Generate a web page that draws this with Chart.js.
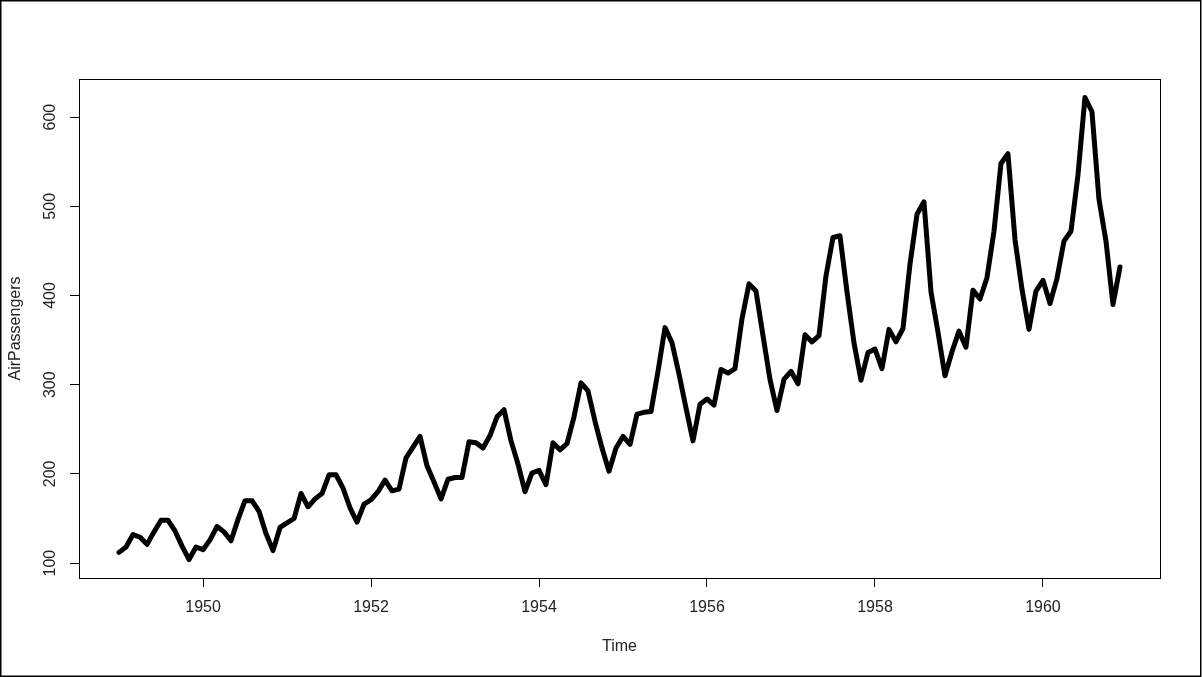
<!DOCTYPE html>
<html>
<head>
<meta charset="utf-8">
<script src="https://cdn.jsdelivr.net/npm/chart.js@4.4.0/dist/chart.umd.min.js"></script>
<style>
  html, body { margin: 0; padding: 0; background: #fff; }
  #wrap { width: 1202px; height: 677px; }
</style>
</head>
<body>
<div id="wrap"><canvas id="chart"></canvas></div>
<script>
// AirPassengers, monthly totals (thousands), Jan..Dec
const y1949 = [112, 118, 132, 129, 121, 135, 148, 148, 136, 119, 104, 118];
const y1950 = [115, 126, 141, 135, 125, 149, 170, 170, 158, 133, 114, 140];
const y1951 = [145, 150, 178, 163, 172, 178, 199, 199, 184, 162, 146, 166];
const y1952 = [171, 180, 193, 181, 183, 218, 230, 242, 209, 191, 172, 194];
const y1953 = [196, 196, 236, 235, 229, 243, 264, 272, 237, 211, 180, 201];
const y1954 = [204, 188, 235, 227, 234, 264, 302, 293, 259, 229, 203, 229];
const y1955 = [242, 233, 267, 269, 270, 315, 364, 347, 312, 274, 237, 278];
const y1956 = [284, 277, 317, 313, 318, 374, 413, 405, 355, 306, 271, 306];
const y1957 = [315, 301, 356, 348, 355, 422, 465, 467, 404, 347, 305, 336];
const y1958 = [340, 318, 362, 348, 363, 435, 491, 505, 404, 359, 310, 337];
const y1959 = [360, 342, 406, 396, 420, 472, 548, 559, 463, 407, 362, 405];
const y1960 = [417, 391, 419, 461, 472, 535, 622, 606, 508, 461, 390, 432];

const startYear = 1949;
const xTicks = [1950, 1952, 1954, 1956, 1958, 1960];
const yTicks = [100, 200, 300, 400, 500, 600];

const allYears = [y1949, y1950, y1951, y1952, y1953, y1954, y1955, y1956, y1957, y1958, y1959, y1960];
const points = [];
allYears.forEach(function (vals, yi) {
    vals.forEach(function (v, m) {
        points.push({ x: startYear + yi + m / 12, y: v });
    });
});

// R style 4% range padding
const xs = points.map(p => p.x), ys = points.map(p => p.y);
const xMin = Math.min(...xs), xMax = Math.max(...xs);
const yMin = Math.min(...ys), yMax = Math.max(...ys);
const xPad = (xMax - xMin) * 0.04, yPad = (yMax - yMin) * 0.04;

const FONT = "'Liberation Sans', Arial, sans-serif";
const TXT = "#222";

const framePlugin = {
    id: "frame",
    afterDraw(chart) {
        const ctx = chart.ctx, a = chart.chartArea;
        ctx.save();
        ctx.strokeStyle = "#000";
        ctx.lineWidth = 1;
        ctx.strokeRect(Math.round(a.left) + 0.5, Math.round(a.top) + 0.5,
            Math.round(a.right - a.left), Math.round(a.bottom - a.top));
        // outer border
        ctx.lineWidth = 1.5;
        ctx.strokeRect(0.75, 0.75, 1200, 675.5);
        // y tick labels, vertical like R
        const ys = chart.scales.y;
        ctx.fillStyle = TXT;
        ctx.font = "16px " + FONT;
        ctx.textAlign = "center";
        ctx.textBaseline = "middle";
        ys.ticks.forEach(function (t) {
            const py = ys.getPixelForValue(t.value);
            ctx.save();
            ctx.translate(51, py);
            ctx.rotate(-Math.PI / 2);
            ctx.fillText(String(t.value), 0, 0);
            ctx.restore();
        });
        ctx.restore();
    }
};

const ctx = document.getElementById("chart").getContext("2d");
new Chart(ctx, {
    type: "line",
    data: {
        datasets: [{
            label: "AirPassengers",
            data: points,
            borderColor: "#000",
            borderWidth: 5,
            borderCapStyle: "round",
            borderJoinStyle: "round",
            pointRadius: 0,
            tension: 0,
            fill: false
        }]
    },
    options: {
        responsive: true,
        maintainAspectRatio: false,
        animation: false,
        layout: { padding: { top: 79, right: 42, left: 0, bottom: 0 } },
        plugins: {
            legend: { display: false },
            tooltip: { enabled: false }
        },
        scales: {
            x: {
                type: "linear",
                min: xMin - xPad,
                max: xMax + xPad,
                afterBuildTicks: function (s) { s.ticks = xTicks.map(v => ({ value: v })); },
                afterFit: function (s) { s.height = 99; },
                grid: { drawOnChartArea: false, drawTicks: true, tickLength: 9, color: "#000", lineWidth: 1 },
                border: { display: true, color: "#000", width: 1 },
                ticks: {
                    color: TXT,
                    padding: 11,
                    maxRotation: 0,
                    font: { family: FONT, size: 16 },
                    callback: v => String(v)
                },
                title: {
                    display: true,
                    text: "Time",
                    color: TXT,
                    font: { family: FONT, size: 16 },
                    padding: { top: 0, bottom: 21 }
                }
            },
            y: {
                type: "linear",
                min: yMin - yPad,
                max: yMax + yPad,
                afterBuildTicks: function (s) { s.ticks = yTicks.map(v => ({ value: v })); },
                afterFit: function (s) { s.width = 79; },
                grid: { drawOnChartArea: false, drawTicks: true, tickLength: 9, color: "#000", lineWidth: 1 },
                border: { display: true, color: "#000", width: 1 },
                ticks: { display: false },
                title: {
                    display: true,
                    text: "AirPassengers",
                    color: TXT,
                    font: { family: FONT, size: 16 },
                    padding: { top: 6, bottom: 0 }
                }
            }
        }
    },
    plugins: [framePlugin]
});
</script>
</body>
</html>
